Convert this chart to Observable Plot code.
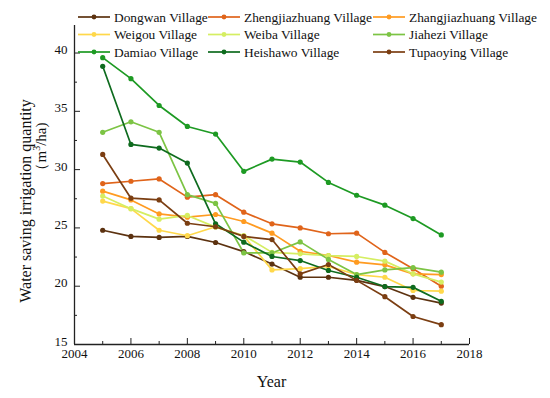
<!DOCTYPE html>
<html><head><meta charset="utf-8">
<script src="https://cdn.jsdelivr.net/npm/d3@7"></script>
<script src="https://cdn.jsdelivr.net/npm/@observablehq/plot@0.6"></script>
<style>body{margin:0;background:#fff} #chart{width:550px;height:398px}</style>
</head><body><div id="chart"></div>
<script>
const years = [2005, 2006, 2007, 2008, 2009, 2010, 2011, 2012, 2013, 2014, 2015, 2016, 2017];
const villages = ["Dongwan Village", "Zhengjiazhuang Village", "Zhangjiazhuang Village", "Weigou Village", "Weiba Village", "Jiahezi Village", "Damiao Village", "Heishawo Village", "Tupaoying Village"];
const colors = ["#5c3210", "#e0641a", "#ff9b21", "#ffd84a", "#d5ee62", "#7cc444", "#1d9a23", "#0e6b1e", "#7b3e12"];
const dongwan = [24.8, 24.27, 24.18, 24.27, 23.75, 22.97, 21.9, 20.77, 20.77, 20.5, 19.97, 19.05, 18.55];
const zhengjiazhuang = [28.8, 29.0, 29.2, 27.64, 27.85, 26.35, 25.35, 25.0, 24.5, 24.55, 22.9, 21.5, 20.0];
const zhangjiazhuang = [28.15, 27.4, 26.2, 25.92, 26.15, 25.55, 24.55, 23.0, 22.63, 22.06, 21.83, 21.06, 21.0];
const weigou = [27.3, 26.65, 24.8, 24.33, 25.1, 24.3, 21.4, 21.5, 21.7, 21.0, 20.77, 19.63, 19.57];
const weiba = [27.73, 26.65, 25.75, 26.07, 25.07, 24.35, 22.9, 22.78, 22.63, 22.55, 22.15, 21.06, 20.35];
const jiahezi = [33.2, 34.1, 33.2, 27.85, 27.1, 22.85, 22.85, 23.8, 22.3, 21.0, 21.4, 21.6, 21.2];
const damiao = [39.6, 37.8, 35.5, 33.7, 33.05, 29.85, 30.9, 30.65, 28.9, 27.8, 26.95, 25.8, 24.4];
const heishawo = [38.86, 32.16, 31.85, 30.56, 25.35, 23.78, 22.55, 22.2, 21.35, 20.77, 19.97, 19.9, 18.7];
const tupaoying = [31.3, 27.55, 27.4, 25.4, 25.1, 24.27, 24.0, 21.06, 21.86, 20.5, 19.1, 17.4, 16.7];
const xMajorTicks = [2004, 2006, 2008, 2010, 2012, 2014, 2016, 2018];
const xMinorTicks = [2005, 2007, 2009, 2011, 2013, 2015, 2017];
const yMajorTicks = [15, 20, 25, 30, 35, 40];
const yMinorTicks = [17.5, 22.5, 27.5, 32.5, 37.5];
const xTitle = "Year";
const yTitle1 = "Water saving irrigation quantity";

const allValues = [dongwan, zhengjiazhuang, zhangjiazhuang, weigou, weiba, jiahezi, damiao, heishawo, tupaoying];
const data = villages.flatMap((v, k) => years.map((yr, i) => ({village: v, year: yr, value: allValues[k][i]})));

const font = "'Liberation Serif', 'Times New Roman', serif";
const plot = Plot.plot({
  width: 550, height: 398,
  marginLeft: 74, marginRight: 81, marginTop: 25, marginBottom: 54,
  style: {fontFamily: font, fontSize: "13px", color: "#111", background: "white", overflow: "visible"},
  x: {domain: [2004, 2018]},
  y: {domain: [15, 42.36]},
  color: {domain: villages, range: colors},
  marks: [
    Plot.ruleX([2004], {stroke: "#222", strokeWidth: 1.3}),
    Plot.ruleY([15], {stroke: "#222", strokeWidth: 1.3}),
    Plot.axisX(xMajorTicks, {tickSize: -6, tickPadding: 10, tickFormat: d => String(d), label: null, stroke: "#222"}),
    Plot.axisX(xMinorTicks, {tickSize: -3, text: null, label: null, stroke: "#222"}),
    Plot.axisY(yMajorTicks, {tickSize: -6, text: null, label: null, stroke: "#222"}),
    Plot.axisY(yMajorTicks, {tickSize: 0, tickPadding: 7, label: null, dy: -3}),
    Plot.axisY(yMinorTicks, {tickSize: -3, text: null, label: null, stroke: "#222"}),
    Plot.line(data, {x: "year", y: "value", z: "village", stroke: "village", strokeWidth: 1.7}),
    Plot.dot(data, {x: "year", y: "value", fill: "village", r: 2.6})
  ]
});
document.getElementById("chart").appendChild(plot);

const svg = d3.select(plot);
svg.append("text").attr("x", 271.5).attr("y", 387).attr("text-anchor", "middle")
  .attr("font-family", font).attr("font-size", 16).attr("fill", "#111").text(xTitle);
const yt = svg.append("g").attr("transform", "rotate(-90)");
yt.append("text").attr("x", -201).attr("y", 31).attr("text-anchor", "middle")
  .attr("font-family", font).attr("font-size", 16).attr("fill", "#111").text(yTitle1);
const t2 = yt.append("text").attr("x", -150).attr("y", 46).attr("text-anchor", "middle")
  .attr("font-family", font).attr("font-size", 15).attr("fill", "#111");
t2.append("tspan").text("（m");
t2.append("tspan").attr("dy", -6).attr("font-size", 10).text("3");
t2.append("tspan").attr("dy", 6).text("/ha)");

// legend
const colX = [78, 208, 373];
const rowY = [17, 34.5, 52];
const lg = svg.append("g").attr("font-family", font).attr("font-size", 13.4).attr("fill", "#111").attr("text-anchor", "start");
villages.forEach((v, i) => {
  const cx = colX[i % 3], cy = rowY[Math.floor(i / 3)];
  lg.append("line").attr("x1", cx).attr("x2", cx + 32).attr("y1", cy).attr("y2", cy)
    .attr("stroke", colors[i]).attr("stroke-width", 1.7);
  lg.append("circle").attr("cx", cx + 16).attr("cy", cy).attr("r", 2.4).attr("fill", colors[i]);
  lg.append("text").attr("x", cx + 36).attr("y", cy).attr("dy", "0.35em").attr("text-anchor", "start").text(v);
});
</script></body></html>
